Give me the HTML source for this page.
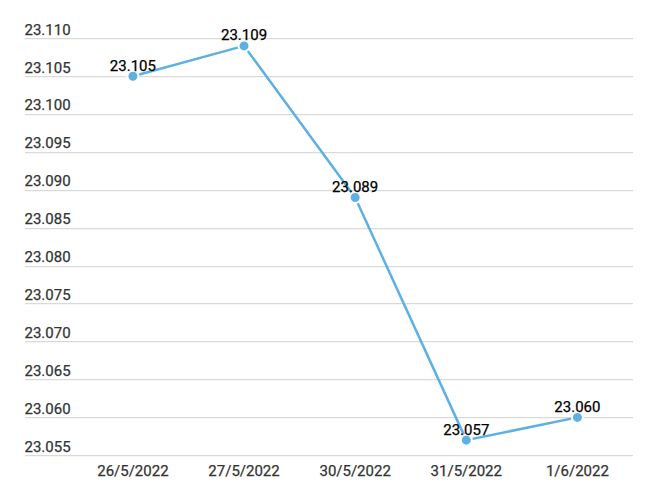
<!DOCTYPE html><html><head><meta charset="utf-8"><style>html,body{margin:0;padding:0;background:#fff;}svg{display:block;}text{font-family:Roboto, "Liberation Sans", sans-serif;}</style></head><body>
<svg width="660" height="492" viewBox="0 0 660 492">
<rect width="660" height="492" fill="#fff"/>
<line x1="25" y1="38.5" x2="633" y2="38.5" stroke="#d9d9d9" stroke-width="1.25"/>
<line x1="25" y1="76.5" x2="633" y2="76.5" stroke="#d9d9d9" stroke-width="1.25"/>
<line x1="25" y1="114.5" x2="633" y2="114.5" stroke="#d9d9d9" stroke-width="1.25"/>
<line x1="25" y1="152.5" x2="633" y2="152.5" stroke="#d9d9d9" stroke-width="1.25"/>
<line x1="25" y1="190.5" x2="633" y2="190.5" stroke="#d9d9d9" stroke-width="1.25"/>
<line x1="25" y1="228.5" x2="633" y2="228.5" stroke="#d9d9d9" stroke-width="1.25"/>
<line x1="25" y1="266.5" x2="633" y2="266.5" stroke="#d9d9d9" stroke-width="1.25"/>
<line x1="25" y1="303.5" x2="633" y2="303.5" stroke="#d9d9d9" stroke-width="1.25"/>
<line x1="25" y1="341.5" x2="633" y2="341.5" stroke="#d9d9d9" stroke-width="1.25"/>
<line x1="25" y1="379.5" x2="633" y2="379.5" stroke="#d9d9d9" stroke-width="1.25"/>
<line x1="25" y1="417.5" x2="633" y2="417.5" stroke="#d9d9d9" stroke-width="1.25"/>
<line x1="25" y1="455.5" x2="633" y2="455.5" stroke="#d9d9d9" stroke-width="1.25"/>
<text x="24.5" y="34.6" font-size="15" fill="#333" stroke="#333" stroke-width="0.25">23.110</text>
<text x="24.5" y="72.5091" font-size="15" fill="#333" stroke="#333" stroke-width="0.25">23.105</text>
<text x="24.5" y="110.418" font-size="15" fill="#333" stroke="#333" stroke-width="0.25">23.100</text>
<text x="24.5" y="148.327" font-size="15" fill="#333" stroke="#333" stroke-width="0.25">23.095</text>
<text x="24.5" y="186.236" font-size="15" fill="#333" stroke="#333" stroke-width="0.25">23.090</text>
<text x="24.5" y="224.145" font-size="15" fill="#333" stroke="#333" stroke-width="0.25">23.085</text>
<text x="24.5" y="262.055" font-size="15" fill="#333" stroke="#333" stroke-width="0.25">23.080</text>
<text x="24.5" y="299.964" font-size="15" fill="#333" stroke="#333" stroke-width="0.25">23.075</text>
<text x="24.5" y="337.873" font-size="15" fill="#333" stroke="#333" stroke-width="0.25">23.070</text>
<text x="24.5" y="375.782" font-size="15" fill="#333" stroke="#333" stroke-width="0.25">23.065</text>
<text x="24.5" y="413.691" font-size="15" fill="#333" stroke="#333" stroke-width="0.25">23.060</text>
<text x="24.5" y="451.6" font-size="15" fill="#333" stroke="#333" stroke-width="0.25">23.055</text>
<text x="132.9" y="476" font-size="15" fill="#333" stroke="#333" stroke-width="0.25" text-anchor="middle">26/5/2022</text>
<text x="244.03" y="476" font-size="15" fill="#333" stroke="#333" stroke-width="0.25" text-anchor="middle">27/5/2022</text>
<text x="355.16" y="476" font-size="15" fill="#333" stroke="#333" stroke-width="0.25" text-anchor="middle">30/5/2022</text>
<text x="466.29" y="476" font-size="15" fill="#333" stroke="#333" stroke-width="0.25" text-anchor="middle">31/5/2022</text>
<text x="577.42" y="476" font-size="15" fill="#333" stroke="#333" stroke-width="0.25" text-anchor="middle">1/6/2022</text>
<polyline fill="none" stroke="#5cb0e4" stroke-width="2.5" stroke-linejoin="round" points="132.9,76.2091 244.03,45.8818 355.16,197.518 466.29,440.136 577.42,417.391"/>
<circle cx="132.9" cy="76.2091" r="5.5" fill="#5cb0e4" stroke="#fff" stroke-width="2"/>
<circle cx="244.03" cy="45.8818" r="5.5" fill="#5cb0e4" stroke="#fff" stroke-width="2"/>
<circle cx="355.16" cy="197.518" r="5.5" fill="#5cb0e4" stroke="#fff" stroke-width="2"/>
<circle cx="466.29" cy="440.136" r="5.5" fill="#5cb0e4" stroke="#fff" stroke-width="2"/>
<circle cx="577.42" cy="417.391" r="5.5" fill="#5cb0e4" stroke="#fff" stroke-width="2"/>
<text x="132.9" y="70.6091" font-size="15" fill="#000000" stroke="#000000" stroke-width="0.25" text-anchor="middle">23.105</text>
<text x="244.03" y="40.2818" font-size="15" fill="#000000" stroke="#000000" stroke-width="0.25" text-anchor="middle">23.109</text>
<text x="355.16" y="191.918" font-size="15" fill="#000000" stroke="#000000" stroke-width="0.25" text-anchor="middle">23.089</text>
<text x="466.29" y="434.536" font-size="15" fill="#000000" stroke="#000000" stroke-width="0.25" text-anchor="middle">23.057</text>
<text x="577.42" y="411.791" font-size="15" fill="#000000" stroke="#000000" stroke-width="0.25" text-anchor="middle">23.060</text>
</svg></body></html>
